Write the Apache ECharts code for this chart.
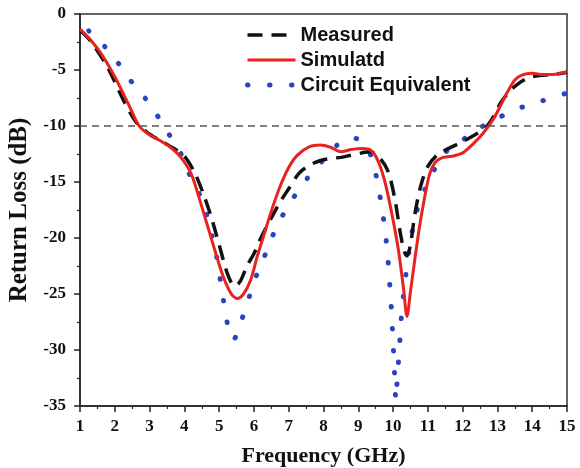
<!DOCTYPE html>
<html>
<head>
<meta charset="utf-8">
<script src="https://cdn.jsdelivr.net/npm/echarts@6/dist/echarts.min.js"></script>
<style>html,body{margin:0;padding:0;background:#fff;}#c{width:580px;height:468px;}</style>
</head>
<body>
<div id="c"></div>
<script>
const measFreq = [1.0,1.3,1.8,2.25,2.6,2.9,3.3,3.7,4.0,4.3,4.55,4.75,5.0,5.25,5.45,5.6,5.8,6.0,6.2,6.5,6.75,7.0,7.3,7.6,7.9,8.2,8.5,8.8,9.1,9.35,9.6,9.85,10.05,10.2,10.32,10.4,10.5,10.63,10.8,11.0,11.3,11.6,12.0,12.4,12.7,12.9,13.1,13.35,13.65,13.9,14.2,14.6,15.0];
const measLoss = [-1.45,-2.4,-4.8,-7.7,-9.6,-10.5,-11.3,-12.0,-12.7,-14.2,-16.1,-17.9,-20.6,-23.3,-24.3,-23.9,-22.5,-21.4,-20.0,-18.2,-16.8,-15.6,-14.2,-13.5,-13.1,-12.9,-12.8,-12.6,-12.4,-12.3,-12.8,-14.0,-16.5,-19.4,-21.2,-21.6,-20.6,-17.8,-15.3,-13.6,-12.5,-12.0,-11.4,-10.7,-10.0,-9.1,-7.9,-6.9,-6.1,-5.7,-5.5,-5.4,-5.2];

const simFreq = [1.0,1.3,1.6,2.0,2.4,2.7,3.0,3.3,3.6,3.9,4.2,4.5,4.8,5.1,5.35,5.52,5.7,5.9,6.1,6.3,6.5,6.75,7.0,7.25,7.6,7.9,8.2,8.5,8.8,9.1,9.35,9.55,9.75,9.95,10.15,10.3,10.4,10.5,10.6,10.75,10.9,11.05,11.2,11.4,11.7,12.0,12.3,12.6,12.9,13.1,13.3,13.5,13.7,14.0,14.3,14.6,15.0];
const simLoss = [-1.35,-2.3,-3.5,-5.6,-8.1,-10.0,-10.8,-11.3,-11.9,-12.8,-14.3,-17.2,-20.3,-23.3,-25.0,-25.4,-25.0,-23.8,-21.6,-19.6,-17.6,-15.4,-13.7,-12.6,-11.85,-11.7,-11.9,-12.3,-12.1,-12.0,-12.15,-13.0,-14.8,-17.6,-21.0,-24.5,-27.0,-24.8,-22.5,-19.2,-16.5,-14.3,-13.3,-12.85,-12.7,-12.4,-11.6,-10.6,-9.3,-8.1,-6.9,-5.9,-5.45,-5.3,-5.4,-5.4,-5.15];

const circFreq = [1.25,1.77,2.15,2.53,2.92,3.25,3.59,3.92,4.16,4.45,4.65,4.8,4.93,5.03,5.12,5.22,5.4,5.55,5.65,5.84,6.03,6.27,6.51,6.75,7.08,7.37,7.75,8.18,8.5,8.71,8.9,9.19,9.4,9.57,9.67,9.76,9.83,9.88,9.92,9.96,9.99,10.02,10.05,10.08,10.12,10.16,10.2,10.24,10.3,10.37,10.45,10.55,10.7,10.91,11.15,11.49,12.02,12.54,13.07,13.64,14.27,15.0];
const circLoss = [-1.5,-3.1,-4.6,-6.25,-7.7,-9.2,-10.9,-12.6,-14.4,-16.2,-18.0,-19.9,-21.7,-23.7,-25.5,-27.4,-29.1,-28.4,-27.3,-25.5,-23.7,-21.9,-20.0,-18.4,-16.7,-15.3,-13.9,-12.4,-11.4,-11.1,-11.1,-11.6,-13.0,-15.3,-17.2,-19.1,-21.1,-23.0,-24.9,-26.8,-28.7,-30.6,-32.6,-34.5,-32.7,-30.8,-28.9,-27.0,-25.1,-23.2,-21.3,-19.4,-17.4,-15.7,-14.1,-12.4,-11.2,-10.1,-9.2,-8.4,-7.77,-7.05];

const seriesNames = ['Measured','Simulatd','Circuit Equivalent'];
const refLevel = -10;
const xTitle = 'Frequency (GHz)';
const yTitle = 'Return Loss (dB)';

const zip = (a,b) => a.map((v,i)=>[v,b[i]]);
const serif = '"Liberation Serif","Times New Roman",serif';
const sans = '"Liberation Sans",Arial,sans-serif';

const styles = [
  {color:'#111',width:3.5,type:[15,9]},
  {color:'#e8231f',width:3,type:'solid'},
  {color:'#2a44bd',width:5,type:[0.5,21.5],cap:'round'}
];

const chart = echarts.init(document.getElementById('c'), null, {renderer:'canvas'});
const axisCommon = {
  axisLine:{show:true,onZero:false,lineStyle:{color:'#222',width:1.5}},
  axisTick:{show:true,inside:false,length:6,lineStyle:{color:'#222',width:1.5}},
  minorTick:{show:true,splitNumber:2,length:3,lineStyle:{color:'#222',width:1.2}},
  splitLine:{show:false},
  axisLabel:{color:'#111',fontFamily:serif,fontWeight:'bold',fontSize:17},
  nameTextStyle:{color:'#111',fontFamily:serif,fontWeight:'bold',fontSize:22}
};
chart.setOption({
  animation:false,
  backgroundColor:'#fff',
  grid:{left:80,right:13,top:14,bottom:62,show:true,borderColor:'#333',borderWidth:1.5,
    backgroundColor:'transparent',containLabel:false,outerBoundsMode:'none'},
  legend:{
    orient:'vertical',left:245,top:25,padding:0,itemWidth:48,itemHeight:14,itemGap:5,
    data:seriesNames.map((n,i)=>({name:n,lineStyle:Object.assign({},styles[i]),itemStyle:{opacity:0}})),
    itemStyle:{opacity:0},
    textStyle:{fontFamily:sans,fontWeight:'bold',fontSize:20,color:'#111'}
  },
  xAxis:Object.assign({},axisCommon,{
    type:'value',min:1,max:15,interval:1,
    name:xTitle,nameLocation:'middle',nameGap:39,
    axisLabel:Object.assign({},axisCommon.axisLabel,{margin:12})
  }),
  yAxis:Object.assign({},axisCommon,{
    type:'value',min:-35,max:0,interval:5,
    name:yTitle,nameLocation:'middle',nameGap:41,
    nameTextStyle:Object.assign({},axisCommon.nameTextStyle,{fontSize:25}),
    axisLabel:Object.assign({},axisCommon.axisLabel,{margin:14})
  }),
  series:[
    {
      name:seriesNames[0],type:'line',data:zip(measFreq,measLoss),showSymbol:false,symbol:'none',
      smooth:0.3,z:3,
      lineStyle:styles[0],itemStyle:{color:styles[0].color},
      markLine:{silent:true,symbol:'none',label:{show:false},
        lineStyle:{color:'#555',width:1.5,type:[7,5]},data:[{yAxis:refLevel}]}
    },
    {
      name:seriesNames[1],type:'line',data:zip(simFreq,simLoss),showSymbol:false,symbol:'none',
      smooth:0.3,z:4,
      lineStyle:styles[1],itemStyle:{color:styles[1].color}
    },
    {
      name:seriesNames[2],type:'line',data:zip(circFreq,circLoss),showSymbol:false,symbol:'none',
      smooth:0.3,z:2,
      lineStyle:styles[2],itemStyle:{color:styles[2].color}
    }
  ]
});
</script>
</body>
</html>
